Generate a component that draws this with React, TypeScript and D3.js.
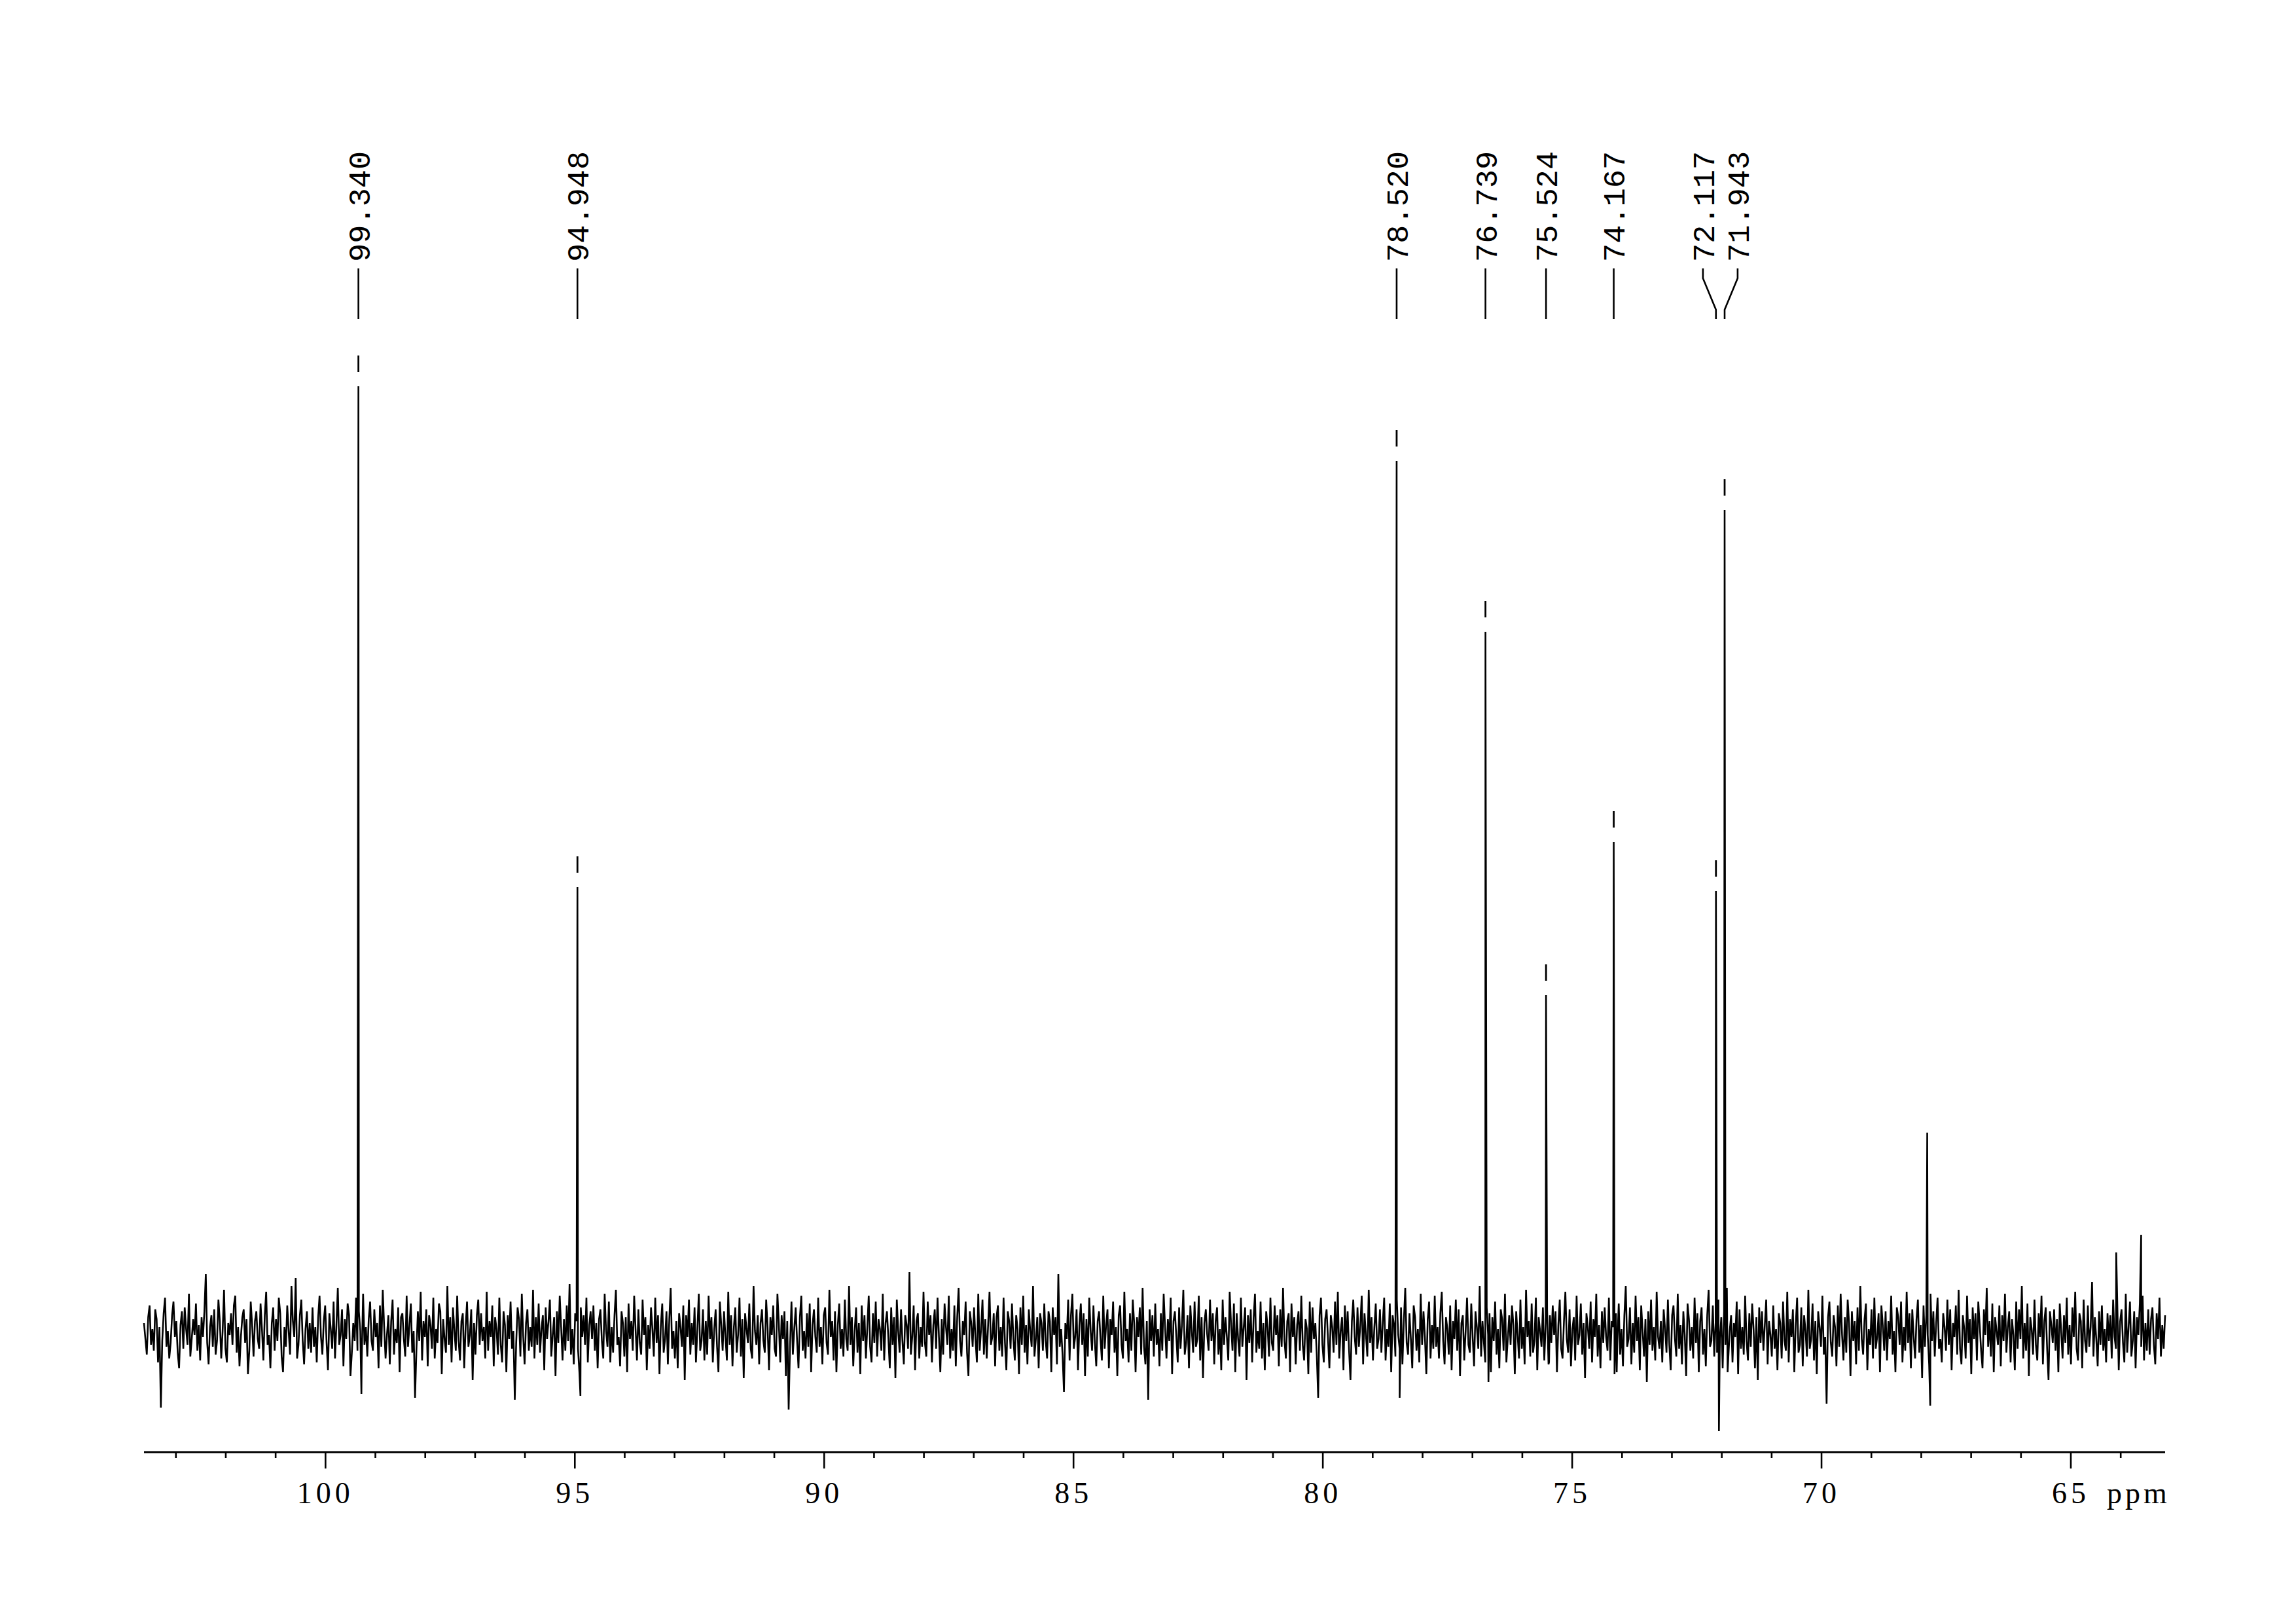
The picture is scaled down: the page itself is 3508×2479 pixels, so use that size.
import React from "react";
import * as d3 from "d3";

// ---- data ----
const xDomain = [103.64, 63.11]; // ppm, left -> right
const majorTicks = [100, 95, 90, 85, 80, 75, 70, 65];
const minorTicks = [103, 102, 101, 99, 98, 97, 96, 94, 93, 92, 91, 89, 88, 87, 86, 84, 83, 82, 81, 79, 78, 77, 76, 74, 73, 72, 71, 69, 68, 67, 66, 64];
const axisUnit = "ppm";

const labeledPpm = [99.34, 94.948, 78.52, 76.739, 75.524, 74.167, 72.117, 71.943];

const peakPpm = [99.34, 94.948, 78.52, 76.739, 75.524, 74.167, 72.117, 71.943, 67.88, 64.09, 63.59];
const peakHeight = [482, 227, 444, 357, 172, 250, 225, 419, 102, 41, 50];
const peakDip = [-31, -32, -33, -25, -15, -20, -50, -20, -37, -10, -12];

// baseline noise, read across the spectrum from left (high ppm) to right (low ppm)
const noise = [
  5,-3,-11,8,14,-6,2,-9,12,7,-15,3,-38,-4,10,18,-7,1,-13,-5,9,16,-2,6,-10,-18,4,11,-8,13,2,-6,20,-12,-3,7,-1,15,-9,4,
  -14,8,-2,11,30,-5,-16,3,9,-7,12,-11,-4,17,6,-13,1,22,-8,-15,5,-1,10,-6,14,19,-10,3,-17,-2,8,12,-5,7,-21,-9,16,4,-12,6,
  11,-3,-8,15,2,-14,9,21,-6,-1,-18,5,13,-9,7,-4,18,10,-12,-20,3,-7,14,1,-11,24,6,-2,28,-13,-6,9,17,-4,-16,2,11,-8,5,-10,
  13,-7,3,-15,8,19,-2,-11,6,14,-5,-19,10,2,-8,16,-13,4,23,-6,-1,12,-17,7,-3,15,9,-22,-10,5,-4,18,-9,11,1,-14,20,-6,3,-12,
  7,16,-4,-9,12,-2,5,-18,14,-7,22,3,-13,-1,9,-16,6,17,-11,2,-5,13,-20,8,10,-3,-12,19,-7,4,15,-10,1,-33,-8,11,-4,21,-14,6,
  -2,12,-17,9,4,-8,18,-13,2,-5,15,11,-21,7,-3,-10,24,-6,8,-15,13,1,-9,19,-4,-14,6,10,-18,3,16,-7,-1,12,-24,5,-11,9,17,-6,
  10,-4,3,-13,21,-9,6,-2,14,-17,8,2,-11,18,-6,-15,11,4,-20,9,-3,16,-8,1,-34,-5,13,7,-12,20,-2,-16,5,12,-9,3,-7,22,-13,8,
  -6,15,-10,2,9,-19,13,-3,6,17,-12,-1,8,-22,11,-5,19,3,-14,7,-9,14,-4,25,-11,2,-16,10,6,-8,-20,13,-2,9,-6,18,-15,4,11,-3,
  14,-9,5,-18,7,12,-4,-13,20,1,-7,16,-15,3,-10,9,22,-6,-2,-17,11,5,-12,8,-20,15,-3,6,-9,19,2,-14,12,-5,-11,17,-1,8,-19,4,
  -8,13,2,-12,18,-5,9,-21,4,15,-10,-3,11,-16,7,23,-8,1,-13,6,-18,10,3,-7,14,-24,9,-2,17,-11,5,-6,13,-15,2,20,-9,-4,12,-14,
  6,-11,19,-3,8,-15,2,12,-7,-20,16,4,-9,11,-2,-14,21,-6,9,-17,3,13,-10,-1,18,-12,7,-23,10,2,-5,15,-8,-13,24,1,-6,9,-16,5,
  12,-4,-10,17,3,-19,8,-1,14,-8,-12,20,5,-15,9,-3,11,-22,6,-39,-6,16,-11,2,13,-4,-18,8,19,-9,1,-13,10,-7,15,-20,4,12,-2,-10,
  18,-7,3,-16,9,13,-5,-11,22,-2,6,-14,11,-20,4,15,-8,2,-12,17,-3,-9,24,-6,8,-17,1,13,-10,5,-21,14,-4,9,-13,3,19,-7,-15,10,
  -5,16,-12,7,2,-9,20,-14,5,11,-3,-18,13,-6,8,-23,17,1,-10,12,-4,-16,9,4,-8,31,-11,-2,14,-19,6,10,-13,3,-7,21,-5,-12,16,-1,
  9,-15,4,12,-8,18,-2,-20,7,-11,15,3,-6,19,-13,2,-9,14,-17,8,23,-4,-12,6,-1,16,-10,-22,11,5,-7,13,-3,-15,20,-9,2,17,-11,7,
  -13,4,21,-6,-2,10,-17,8,14,-9,3,-12,18,-5,-19,11,6,-8,15,-3,-14,9,2,-21,13,-6,19,-10,4,-16,12,1,-7,24,-12,-3,8,-18,10,5,
  -9,15,-4,-13,11,6,-20,13,-1,8,-16,30,-7,2,-11,-30,5,-3,17,-14,9,20,-8,-2,12,-19,4,15,-6,10,-22,7,-12,18,1,-9,14,-5,-17,6,
  11,-3,-14,19,-8,4,12,-18,7,-1,16,-10,3,-22,9,14,-6,-13,21,-4,2,-15,10,-9,17,5,-20,8,-2,13,-11,23,-7,-16,6,-34,12,-4,9,-12,
  15,-6,2,-17,10,-9,20,3,-13,7,-4,18,-21,6,11,-2,-15,13,-8,4,22,-11,-5,9,-18,14,1,-10,16,-7,-3,19,-14,8,-23,5,12,-1,-9,17,
  -4,10,-16,6,13,-11,2,-19,17,-6,8,-2,-14,21,4,-9,15,-20,10,-3,-12,18,-7,3,13,-24,9,-5,12,-15,7,20,-10,1,-8,16,-13,5,-19,11,
  3,-12,18,-5,-9,14,-1,9,-17,12,-7,23,-4,-13,6,10,-20,15,-2,8,-16,4,11,-9,19,-6,-14,7,2,-21,16,-10,13,-3,5,-11,-33,9,18,-6,
  -15,7,12,-3,-18,9,3,-10,16,-6,21,-13,1,8,-19,14,-4,11,-9,-24,6,17,-2,-11,13,-7,4,19,-16,10,-1,-12,22,-5,8,-14,3,15,-8,-3,
  12,-10,5,18,-14,2,-7,15,-20,9,4,-12,17,-1,-8,13,-16,6,23,-5,-11,10,-3,-18,14,8,-9,2,-15,20,-6,11,-2,-21,7,16,-13,4,-8,19,
  -7,3,-13,10,21,-4,-16,8,2,-11,14,-19,6,-3,17,-9,12,-22,5,9,-14,1,18,-6,-10,15,-2,-17,11,3,-8,24,-12,6,-5,-15,13,-1,10,-20,
  8,-4,16,-11,2,-18,12,7,-9,20,-15,-3,9,-6,14,4,-21,11,-1,-13,17,-8,3,-16,22,-2,6,-12,15,-10,-4,18,-19,8,1,-7,13,-14,5,12,
  -16,9,-5,14,-1,11,-20,4,17,-8,-13,6,21,-3,-10,12,-17,2,8,-14,19,-6,-1,15,-11,5,-23,10,3,-8,16,-15,7,-2,20,-12,4,-18,11,-5,
  13,-2,-9,18,-14,6,3,-21,10,-5,15,-11,2,-17,9,24,-7,-3,13,-16,5,-10,19,-4,8,-19,14,1,-12,7,-25,11,-6,17,-9,3,-14,21,-2,-8,
  6,-15,12,2,-10,17,-6,-19,9,14,-3,-12,20,-8,4,-16,11,-1,-22,15,7,-9,3,-13,18,-5,10,-20,6,13,-11,2,-17,9,22,-7,-4,14,-12,5,
  -10,17,-3,8,-18,11,-6,23,-13,1,9,-15,5,-2,16,-21,12,-8,3,-11,19,-4,-14,10,-7,15,2,-18,8,-24,13,-5,11,-9,4,17,-16,6,-1,-12,
  14,-8,2,-19,10,5,-13,16,-4,-9,21,-15,7,-2,12,-20,4,18,-10,-6,13,-17,9,1,-12,22,-8,-3,15,-14,6,-21,11,3,-7,19,-11,-2,-36,8,
  16,-5,-12,9,3,-17,14,-7,20,-1,-14,8,-10,17,5,-22,11,-4,6,-16,13,-9,24,-3,-11,7,15,-19,2,-6,12,-13,18,-8,-2,10,-20,14,4,-9,
  11,-14,6,-3,19,-11,1,-20,13,8,-6,16,-15,3,-9,21,-5,10,-18,12,-2,-13,7,17,-10,4,-23,14,-7,9,-1,-16,20,-4,11,-12,5,18,-8,-3,
  -15,10,3,-9,17,-6,12,-19,5,-2,14,-11,22,-8,-16,9,2,-13,19,-5,7,-21,13,-3,10,-14,16,4,-9,-18,12,-1,23,-7,6,-12,15,-20,8,1,
  -6,14,-17,9,-4,20,-10,3,11,-15,7,-1,-19,16,-8,12,-3,24,-13,5,-9,15,-22,8,2,-11,17,-6,-14,10,-2,19,-16,6,13,-8,-24,11,4,-5,
  12,-9,7,-20,15,1,-13,9,-5,18,-11,4,-16,13,-2,21,-8,-14,10,6,-18,17,-4,-10,14,-7,3,26,-12,8,-3,-17,11,-6,14,-9,2,-15,10,-4,
  9,-13,17,-2,-8,14,-19,6,12,-5,-15,20,-10,3,16,-12,-4,11,-18,8,-1,15,-7,19,-14,5,-9,12,-11,7,13,-6,-16,10,-3,18,-12,4,-8,9,
];

// ---- layout ----
const W = 3508;
const H = 2479;
const plotLeft = 220;
const plotRight = 3308;
const baselineY = 2036;
const axisY = 2218;
const labelFont = 47;
const tickFont = 46;
const labelGap = 53;

function spreadLabels(xs: number[], gap: number): number[] {
  let groups = xs.map((x) => ({ xs: [x], center: x }));
  let changed = true;
  while (changed) {
    changed = false;
    for (let i = 0; i < groups.length - 1; i++) {
      const a = groups[i];
      const b = groups[i + 1];
      const aRight = a.center + ((a.xs.length - 1) * gap) / 2;
      const bLeft = b.center - ((b.xs.length - 1) * gap) / 2;
      if (bLeft - aRight < gap) {
        const merged = [...a.xs, ...b.xs];
        groups.splice(i, 2, { xs: merged, center: d3.mean(merged) as number });
        changed = true;
        break;
      }
    }
  }
  return groups.flatMap((g) => g.xs.map((_, k) => g.center + (k - (g.xs.length - 1) / 2) * gap));
}

export default function App() {
  const x = d3.scaleLinear().domain(xDomain).range([plotLeft, plotRight]);
  const y = d3.scaleLinear().domain([0, 500]).range([baselineY, baselineY - 1500]);

  const step = (xDomain[0] - xDomain[1]) / (noise.length - 1);
  const pts: { p: number; v: number }[] = noise.map((v, i) => ({ p: xDomain[0] - i * step, v }));
  peakPpm.forEach((p, i) => {
    pts.push({ p, v: peakHeight[i] });
    pts.push({ p: p - 0.06, v: peakDip[i] });
  });
  pts.sort((a, b) => b.p - a.p);

  const line = d3
    .line<{ p: number; v: number }>()
    .x((d) => x(d.p))
    .y((d) => y(d.v));

  const peakX = labeledPpm.map((p) => x(p));
  const labelX = spreadLabels(peakX, labelGap);

  const lineTop = 410;
  const bendA = 425;
  const bendB = 473;
  const lineBottom = 487;

  return (
    <>
      <style>{"body{margin:0;background:#fff}"}</style>
      <svg width={W} height={H} viewBox={`0 0 ${W} ${H}`} style={{ display: "block", background: "#fff" }}>
        {/* spectrum */}
        <path d={line(pts) || ""} fill="none" stroke="#000" strokeWidth={2.6} strokeLinejoin="bevel" />

        {/* peak pick markers */}
        {labeledPpm.map((p, i) => {
          const h = peakHeight[peakPpm.indexOf(p)];
          const yt = y(h);
          return (
            <line key={"m" + i} x1={x(p)} x2={x(p)} y1={yt - 47} y2={yt - 22} stroke="#000" strokeWidth={2.8} />
          );
        })}

        {/* peak labels and connector lines */}
        {labeledPpm.map((p, i) => {
          const lx = labelX[i];
          const px = peakX[i];
          const d =
            Math.abs(lx - px) < 0.5
              ? `M${px},${lineTop}V${lineBottom}`
              : `M${lx},${lineTop}V${bendA}L${px},${bendB}V${lineBottom}`;
          return (
            <g key={"l" + i}>
              <path d={d} fill="none" stroke="#000" strokeWidth={2.6} />
              <text
                transform={`translate(${lx},400) rotate(-90)`}
                dy="0.36em"
                fontFamily="'Liberation Mono', 'DejaVu Sans Mono', monospace"
                fontSize={labelFont}
                fill="#000"
              >
                {p.toFixed(3)}
              </text>
            </g>
          );
        })}

        {/* axis */}
        <line x1={plotLeft} x2={plotRight} y1={axisY} y2={axisY} stroke="#000" strokeWidth={3.2} />
        {minorTicks.map((t) => (
          <line key={"mt" + t} x1={x(t)} x2={x(t)} y1={axisY} y2={axisY + 9} stroke="#000" strokeWidth={2.6} />
        ))}
        {majorTicks.map((t) => (
          <line key={"Mt" + t} x1={x(t)} x2={x(t)} y1={axisY} y2={axisY + 25} stroke="#000" strokeWidth={2.6} />
        ))}
        {majorTicks.map((t) => (
          <text
            key={"tl" + t}
            x={x(t)}
            y={2296}
            textAnchor="middle"
            fontFamily="'Liberation Serif', serif"
            fontSize={tickFont}
            letterSpacing={6}
            fill="#000"
          >
            {t}
          </text>
        ))}
        <text x={3219} y={2296} fontFamily="'Liberation Serif', serif" fontSize={tickFont} letterSpacing={5} fill="#000">
          {axisUnit}
        </text>
      </svg>
    </>
  );
}
